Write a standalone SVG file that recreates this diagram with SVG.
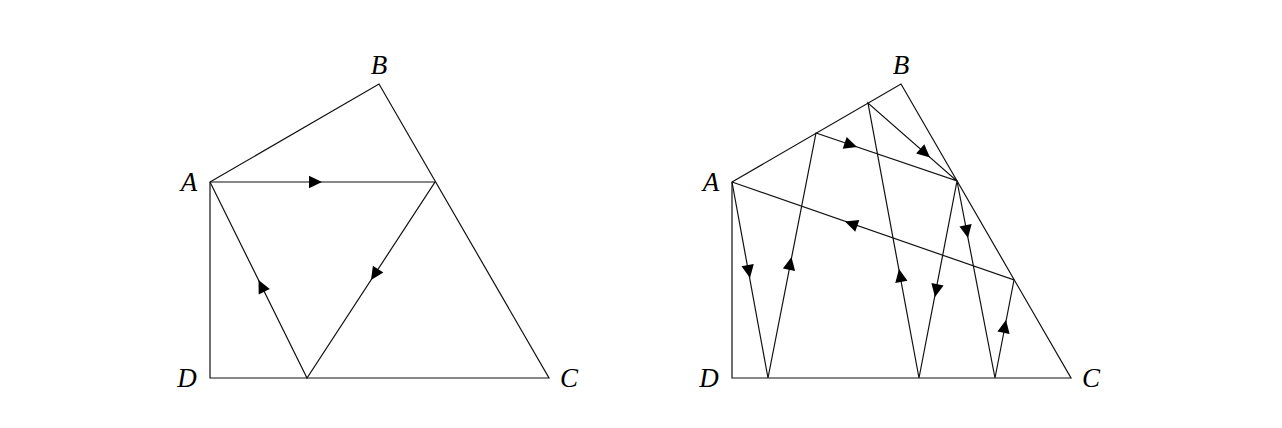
<svg xmlns="http://www.w3.org/2000/svg" xmlns:xlink="http://www.w3.org/1999/xlink" width="1282" height="428" viewBox="0 0 1282 428">
<style>
.edge{fill:none;stroke:#111;stroke-width:1.2;stroke-linejoin:miter}
.lbl{font-family:"Liberation Serif","DejaVu Serif",serif;font-style:italic;font-size:27px;fill:#000;text-anchor:middle}
.ah{fill:#000}
</style>
<defs>
<path id="arr" class="ah" d="M0,0 L-13,-6.2 L-13,6.2 Z"/>
</defs>
<rect width="1282" height="428" fill="#fff"/>
<g id="figure-left">
<g id="quad-left"><polygon class="edge" points="210,182 379,84 549,378 210,378"/></g>
<g id="connectors-left">
<polyline class="edge" points="210,182 435,182 307,378 210,182"/>
<use xlink:href="#arr" href="#arr" transform="translate(322,182)"/>
<use xlink:href="#arr" href="#arr" transform="translate(371,280) rotate(123.1)"/>
<use xlink:href="#arr" href="#arr" transform="translate(258.5,280) rotate(-116.3)"/>
</g>
<g id="labels-left">
<text class="lbl" x="189" y="191">A</text>
<text class="lbl" x="379" y="74">B</text>
<text class="lbl" x="569" y="387">C</text>
<text class="lbl" x="187" y="387">D</text>
</g>
</g>
<g id="figure-right">
<g id="quad-right"><polygon class="edge" points="732,182 901,84 1071,378 732,378"/></g>
<g id="connectors-right">
<polyline class="edge" points="732,182 768,378 816,133 957,181 919,378 868,103 957,181 995,378 1014,280 732,182"/>
<use xlink:href="#arr" href="#arr" transform="translate(750,278) rotate(79.6)"/>
<use xlink:href="#arr" href="#arr" transform="translate(791.5,257) rotate(-78.9)"/>
<use xlink:href="#arr" href="#arr" transform="translate(857,147) rotate(18.8)"/>
<use xlink:href="#arr" href="#arr" transform="translate(930,157.5) rotate(41.2)"/>
<use xlink:href="#arr" href="#arr" transform="translate(935,297) rotate(100.9)"/>
<use xlink:href="#arr" href="#arr" transform="translate(899,269) rotate(-100.5)"/>
<use xlink:href="#arr" href="#arr" transform="translate(968,238) rotate(79.1)"/>
<use xlink:href="#arr" href="#arr" transform="translate(1006,320) rotate(-79)"/>
<use xlink:href="#arr" href="#arr" transform="translate(845,221.5) rotate(-160.8)"/>
</g>
<g id="labels-right">
<text class="lbl" x="711" y="191">A</text>
<text class="lbl" x="901" y="74">B</text>
<text class="lbl" x="1091" y="387">C</text>
<text class="lbl" x="709" y="387">D</text>
</g>
</g>
</svg>
